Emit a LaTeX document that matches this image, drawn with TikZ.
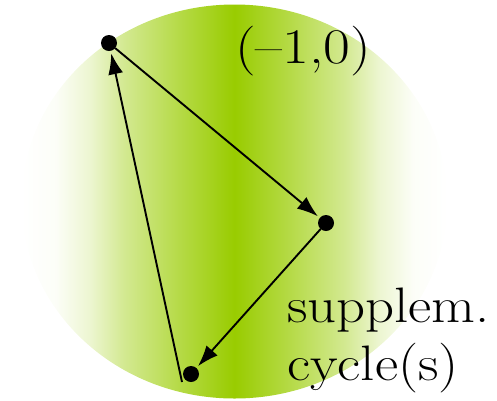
\documentclass[tikz,border=0pt]{standalone}
\usetikzlibrary{arrows.meta}
\definecolor{ygreen}{HTML}{99CC00}
\pgfdeclarehorizontalshading{gshade}{100bp}{%
  color(0bp)=(white); color(25bp)=(white);
  color(29bp)=(white!97!ygreen); color(33bp)=(white!82!ygreen);
  color(37bp)=(white!57!ygreen); color(43bp)=(white!30!ygreen);
  color(50bp)=(ygreen);
  color(57bp)=(white!30!ygreen); color(63bp)=(white!57!ygreen);
  color(67bp)=(white!82!ygreen); color(71bp)=(white!97!ygreen);
  color(75bp)=(white); color(100bp)=(white)}
\tikzset{
  dot/.style={circle,fill=black,inner sep=0pt,minimum size=16bp,outer sep=0pt},
  conn/.style={-{Latex[length=21bp,width=15bp]},line width=1.9bp,shorten >=2.5bp},
  lbl/.style={inner sep=0pt,font=\fontsize{50}{58}\selectfont}
}
\begin{document}
\begin{tikzpicture}[x=1bp,y=-1bp]
\useasboundingbox (0,0) rectangle (497,400);
\shade[shading=gshade] (234.5,201.5) ellipse [x radius=213,y radius=197];
\node[dot] (A) at (109,43) {};
\node[dot] (B) at (326,223) {};
\node[dot] (C) at (191,374) {};
\coordinate (Ct) at (182,382);
\draw[conn] (A) -- (B);
\draw[conn] (B) -- (C);
\draw[conn] (Ct) -- (A);
\node[lbl,anchor=base west] (L1) at (235,63) {\scalebox{1.17}[1]{(–1,0)}};
\node[lbl,anchor=base west,align=left] (L2) at (287,380) {\scalebox{1.14}[1]{supplem.}\\\scalebox{1.14}[1]{cycle(s)}};
\end{tikzpicture}
\end{document}
